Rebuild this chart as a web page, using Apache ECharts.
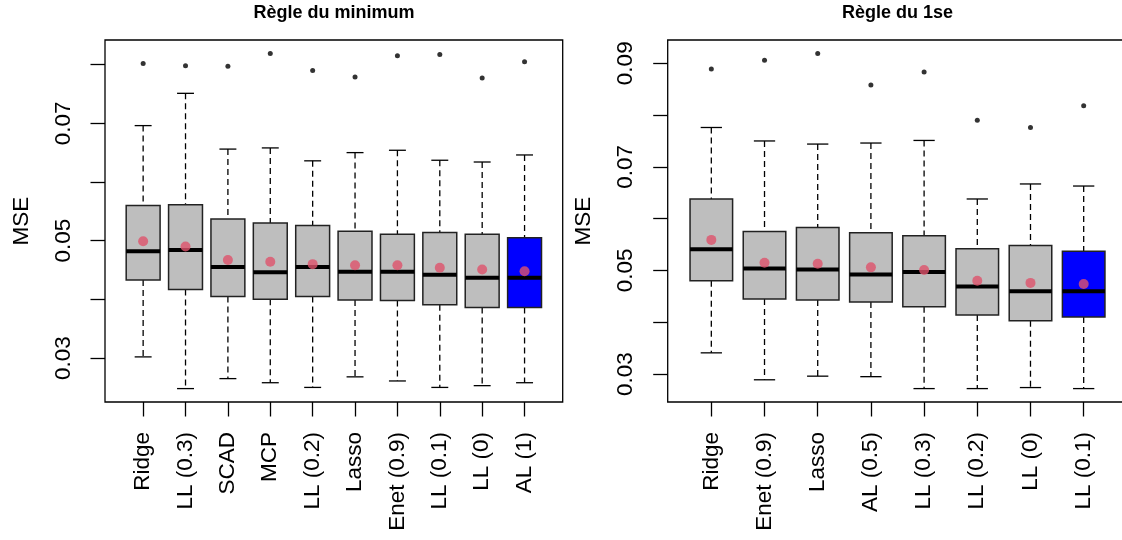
<!DOCTYPE html>
<html>
<head>
<meta charset="utf-8">
<script src="https://cdn.jsdelivr.net/npm/echarts@6/dist/echarts.min.js"></script>
<style>
  html, body { margin: 0; padding: 0; background: #ffffff; }
  #chart { width: 1122px; height: 540px; }
</style>
</head>
<body>
<div id="chart"></div>
<script>
// ---- Règle du minimum ----
const minCategories = ['Ridge', 'LL (0.3)', 'SCAD', 'MCP', 'LL (0.2)', 'Lasso', 'Enet (0.9)', 'LL (0.1)', 'LL (0)', 'AL (1)'];
const minLower   = [0.0302, 0.0248, 0.0265, 0.0258, 0.0250, 0.0268, 0.0261, 0.0250, 0.0253, 0.0258];
const minQ1      = [0.0433, 0.0417, 0.0405, 0.0400, 0.0405, 0.0399, 0.0398, 0.0391, 0.0386, 0.0386];
const minMedian  = [0.0482, 0.0484, 0.0455, 0.0446, 0.0455, 0.0447, 0.0447, 0.0442, 0.0437, 0.0437];
const minQ3      = [0.0560, 0.0561, 0.0537, 0.0530, 0.0526, 0.0516, 0.0511, 0.0514, 0.0511, 0.0505];
const minUpper   = [0.0696, 0.0751, 0.0656, 0.0658, 0.0636, 0.0650, 0.0654, 0.0637, 0.0634, 0.0646];
const minMean    = [0.0499, 0.0490, 0.0467, 0.0464, 0.0460, 0.0458, 0.0458, 0.0454, 0.0451, 0.0448];
const minOutlier = [0.0802, 0.0798, 0.0797, 0.0819, 0.0790, 0.0779, 0.0815, 0.0817, 0.0777, 0.0805];
const minTicks      = [0.03, 0.04, 0.05, 0.06, 0.07, 0.08];
const minTickLabels = [0.03, 0.05, 0.07];

// ---- Règle du 1se ----
const seCategories = ['Ridge', 'Enet (0.9)', 'Lasso', 'AL (0.5)', 'LL (0.3)', 'LL (0.2)', 'LL (0)', 'LL (0.1)'];
const seLower   = [0.0341, 0.0289, 0.0296, 0.0295, 0.0272, 0.0272, 0.0274, 0.0272];
const seQ1      = [0.0480, 0.0445, 0.0443, 0.0439, 0.0430, 0.0414, 0.0403, 0.0410];
const seMedian  = [0.0541, 0.0504, 0.0502, 0.0492, 0.0497, 0.0469, 0.0460, 0.0460];
const seQ3      = [0.0638, 0.0575, 0.0583, 0.0573, 0.0567, 0.0542, 0.0548, 0.0537];
const seUpper   = [0.0776, 0.0750, 0.0744, 0.0746, 0.0751, 0.0638, 0.0667, 0.0663];
const seMean    = [0.0559, 0.0515, 0.0513, 0.0506, 0.0501, 0.0480, 0.0476, 0.0474];
const seOutlier = [0.0889, 0.0906, 0.0919, 0.0858, 0.0883, 0.0790, 0.0776, 0.0818];
const seTicks      = [0.03, 0.04, 0.05, 0.06, 0.07, 0.08, 0.09];
const seTickLabels = [0.03, 0.05, 0.07, 0.09];

const titles = ['Règle du minimum', 'Règle du 1se'];
const yName = 'MSE';

const GREY = '#BEBEBE';
const BLUE = '#0000FF';
const MEAN_RED = '#DF536B';
const FONT = "'Liberation Sans', Arial, sans-serif";
const FS = 22.5;

// data extent padded by 4% on each side, like R's default axis style
function padRange(lo, hi) {
  const d = (hi - lo) * 0.04;
  return [lo - d, hi + d];
}

function boxData(lower, q1, med, q3, upper) {
  return lower.map((v, i) => [i + 1, v, q1[i], med[i], q3[i], upper[i], i === lower.length - 1 ? 1 : 0]);
}

function renderBox(params, api) {
  const x = api.value(0);
  const pLo = api.coord([x, api.value(1)]);
  const pQ1 = api.coord([x, api.value(2)]);
  const pMed = api.coord([x, api.value(3)]);
  const pQ3 = api.coord([x, api.value(4)]);
  const pHi = api.coord([x, api.value(5)]);
  const w = api.size([0.8, 0])[0];
  const cx = pMed[0];
  const capHalf = w / 4;
  const dashed = { stroke: '#000', lineWidth: 1.3, lineDash: [6, 4] };
  const solid = { stroke: '#000', lineWidth: 1.3 };
  return {
    type: 'group',
    children: [
      { type: 'line', shape: { x1: cx, y1: pHi[1], x2: cx, y2: pQ3[1] }, style: dashed },
      { type: 'line', shape: { x1: cx, y1: pQ1[1], x2: cx, y2: pLo[1] }, style: dashed },
      { type: 'line', shape: { x1: cx - capHalf, y1: pHi[1], x2: cx + capHalf, y2: pHi[1] }, style: solid },
      { type: 'line', shape: { x1: cx - capHalf, y1: pLo[1], x2: cx + capHalf, y2: pLo[1] }, style: solid },
      {
        type: 'rect',
        shape: { x: cx - w / 2, y: pQ3[1], width: w, height: pQ1[1] - pQ3[1] },
        style: { fill: api.value(6) ? BLUE : GREY, stroke: '#222', lineWidth: 1.5 }
      },
      { type: 'line', shape: { x1: cx - w / 2, y1: pMed[1], x2: cx + w / 2, y2: pMed[1] }, style: { stroke: '#000', lineWidth: 4 } }
    ]
  };
}

function panel(idx, cats, lower, q1, med, q3, upper, mean, outl, ticks, tickLabels) {
  const n = cats.length;
  const xs = cats.map((_, i) => i + 1);
  const yr = padRange(Math.min(...lower, ...outl), Math.max(...upper, ...outl));
  const xAxis = {
    type: 'value',
    gridIndex: idx,
    min: 0.5 - 0.04 * n,
    max: n + 0.5 + 0.04 * n,
    axisLine: { show: false },
    splitLine: { show: false },
    axisTick: { show: true, length: 14.5, customValues: xs, lineStyle: { color: '#000', width: 1.3 } },
    axisLabel: {
      show: true,
      customValues: xs,
      rotate: 90,
      margin: 30,
      color: '#000',
      fontFamily: FONT,
      fontSize: FS,
      formatter: v => cats[Math.round(v) - 1]
    }
  };
  const yAxis = {
    type: 'value',
    gridIndex: idx,
    min: yr[0],
    max: yr[1],
    name: yName,
    nameLocation: 'middle',
    nameRotate: 90,
    nameGap: 72,
    nameTextStyle: { color: '#000', fontFamily: FONT, fontSize: FS },
    axisLine: { show: false },
    splitLine: { show: false },
    axisTick: { show: true, length: 14.5, customValues: ticks, lineStyle: { color: '#000', width: 1.3 } },
    axisLabel: {
      show: true,
      customValues: tickLabels,
      rotate: 90,
      margin: 30,
      color: '#000',
      fontFamily: FONT,
      fontSize: FS,
      formatter: v => v.toFixed(2)
    }
  };
  const series = [
    {
      type: 'custom',
      xAxisIndex: idx,
      yAxisIndex: idx,
      renderItem: renderBox,
      encode: { x: 0, y: [1, 2, 3, 4, 5] },
      data: boxData(lower, q1, med, q3, upper),
      z: 2
    },
    {
      type: 'scatter',
      xAxisIndex: idx,
      yAxisIndex: idx,
      symbol: 'circle',
      symbolSize: 10,
      itemStyle: { color: MEAN_RED },
      data: mean.map((v, i) => [i + 1, v]),
      z: 4
    },
    {
      type: 'scatter',
      xAxisIndex: idx,
      yAxisIndex: idx,
      symbol: 'circle',
      symbolSize: 5,
      itemStyle: { color: '#000' },
      data: outl.map((v, i) => [i + 1, v]),
      z: 4
    }
  ];
  return { xAxis, yAxis, series };
}

const pMin = panel(0, minCategories, minLower, minQ1, minMedian, minQ3, minUpper, minMean, minOutlier, minTicks, minTickLabels);
const pSe = panel(1, seCategories, seLower, seQ1, seMedian, seQ3, seUpper, seMean, seOutlier, seTicks, seTickLabels);

const gridBox = { show: true, borderColor: '#000', borderWidth: 1.3, backgroundColor: 'transparent', outerBoundsMode: 'none', containLabel: false };

const option = {
  animation: false,
  backgroundColor: '#ffffff',
  title: [
    {
      text: titles[0], left: 334, top: 13, padding: 0, textAlign: 'center', textVerticalAlign: 'middle',
      textStyle: { fontFamily: FONT, fontSize: 18, fontWeight: 'bold', color: '#000' }
    },
    {
      text: titles[1], left: 897.5, top: 13, padding: 0, textAlign: 'center', textVerticalAlign: 'middle',
      textStyle: { fontFamily: FONT, fontSize: 18, fontWeight: 'bold', color: '#000' }
    }
  ],
  grid: [
    Object.assign({ left: 105, top: 40, width: 457.7, height: 362 }, gridBox),
    Object.assign({ left: 667.7, top: 40, width: 459.6, height: 362 }, gridBox)
  ],
  xAxis: [pMin.xAxis, pSe.xAxis],
  yAxis: [pMin.yAxis, pSe.yAxis],
  series: [...pMin.series, ...pSe.series]
};

const chart = echarts.init(document.getElementById('chart'), null, { renderer: 'canvas' });
chart.setOption(option);
</script>
</body>
</html>
